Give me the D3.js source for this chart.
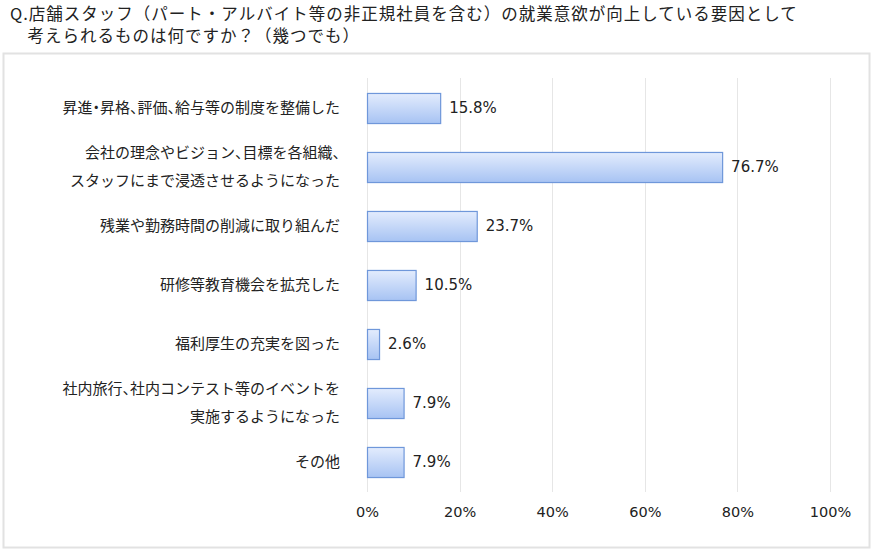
<!DOCTYPE html>
<html><head><meta charset="utf-8">
<script src="https://cdn.jsdelivr.net/npm/d3@7/dist/d3.min.js"></script>
<style>
body{margin:0;background:#fff;}
svg{display:block;font-family:"Noto Sans CJK JP","Noto Sans",sans-serif;}
.punct{font-feature-settings:"halt";}
</style></head>
<body><svg id="c" width="872" height="550"></svg>
<script>
const titleLines = ["Q.店舗スタッフ（パート・アルバイト等の非正規社員を含む）の就業意欲が向上している要因として", "　考えられるものは何ですか？（幾つでも）"];
const categories = [
  ["昇進・昇格、評価、給与等の制度を整備した"],
  ["会社の理念やビジョン、目標を各組織、", "スタッフにまで浸透させるようになった"],
  ["残業や勤務時間の削減に取り組んだ"],
  ["研修等教育機会を拡充した"],
  ["福利厚生の充実を図った"],
  ["社内旅行、社内コンテスト等のイベントを", "実施するようになった"],
  ["その他"]
];
const values = [15.8, 76.7, 23.7, 10.5, 2.6, 7.9, 7.9];
const tickValues = [0, 20, 40, 60, 80, 100];

const svg = d3.select("#c");
const defs = svg.append("defs");
const g = defs.append("linearGradient").attr("id","bg").attr("x1",0).attr("y1",0).attr("x2",0).attr("y2",1);
g.append("stop").attr("offset","0%").attr("stop-color","#e3ecfd");
g.append("stop").attr("offset","100%").attr("stop-color","#a7c3f3");

// title
svg.append("g").selectAll("text").data(titleLines).join("text")
  .attr("x", 10).attr("y", (d,i)=>20 + i*22)
  .attr("font-size", 16.5).attr("letter-spacing", 1).attr("fill","#222").text(d=>d);

// box
svg.append("rect").attr("x",3.5).attr("y",53.5).attr("width",866).attr("height",494)
  .attr("fill","none").attr("stroke","#e2e2e2").attr("stroke-width",2);

const x = d3.scaleLinear().domain([0,100]).range([367,830]);
const y = d3.scaleBand().domain(d3.range(values.length)).range([78.5,491.5]).paddingInner(0.49).paddingOuter(0.245);

// grid
svg.append("g").selectAll("line").data(tickValues).join("line")
  .attr("x1",d=>Math.round(x(d))+0.5).attr("x2",d=>Math.round(x(d))+0.5)
  .attr("y1",78).attr("y2",492).attr("stroke","#e6e6e6").attr("stroke-width",1);

// axis ticks labels
const ax = svg.append("g").attr("transform","translate(0,492)")
  .call(d3.axisBottom(x).tickValues(tickValues).tickFormat(d=>d+"%").tickSize(0).tickPadding(15));
ax.select(".domain").remove();
ax.selectAll("text").attr("font-size",14.5).attr("fill","#222").attr("font-family","Verdana,'DejaVu Sans',sans-serif");

// bars
svg.append("g").selectAll("rect").data(values).join("rect")
  .attr("x",x(0)+0.5).attr("y",(d,i)=>y(i)+0.5)
  .attr("width",d=>x(d)-x(0)).attr("height",y.bandwidth())
  .attr("fill","url(#bg)").attr("stroke","#6f97da").attr("stroke-width",1.2);

// value labels
svg.append("g").selectAll("text").data(values).join("text")
  .attr("x",d=>x(d)+9).attr("y",(d,i)=>y(i)+y.bandwidth()/2)
  .attr("dy","0.3em").attr("font-size",15).attr("fill","#222")
  .attr("font-family","Verdana,'DejaVu Sans',sans-serif")
  .text(d=>d.toFixed(1)+"%");

// category labels: each line is one <text>, punctuation in half-width tspans
const lineData = [];
categories.forEach((lines,i)=>{
  lines.forEach((t,j)=>lineData.push({i, j, n: lines.length, t}));
});
const cl = svg.append("g").selectAll("text").data(lineData).join("text")
  .attr("text-anchor","end").attr("font-size",15).attr("fill","#222")
  .attr("x",340)
  .attr("y",d=>y(d.i)+y.bandwidth()/2 + (d.j-(d.n-1)/2)*28)
  .attr("dy","0.36em");
cl.each(function(d){
  const segs = d.t.split(/([、・])/).filter(s=>s.length);
  d3.select(this).selectAll("tspan").data(segs).join("tspan")
    .attr("class",s=>/^[、・]$/.test(s)?"punct":null).text(s=>s);
});
</script></body></html>
